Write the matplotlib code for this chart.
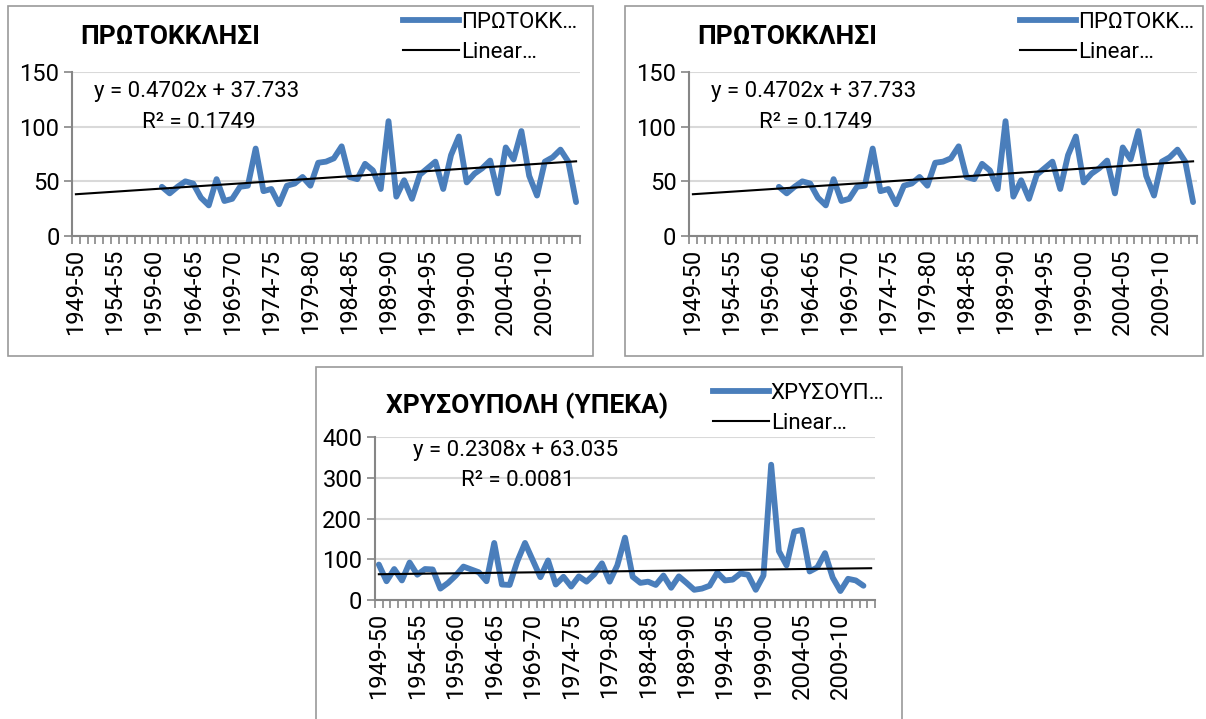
import numpy as np
import matplotlib
matplotlib.use('Agg')
from matplotlib import pyplot as plt
from matplotlib.lines import Line2D
from matplotlib.patches import Rectangle

# データ
seasons = ['%d-%02d' % (y, (y + 1) % 100) for y in range(1949, 2014)]

protokklisi = [None] * 11 + [
    45, 39, 45, 50, 48, 35, 28, 52, 32, 34,
    45, 46, 80, 41, 43, 29, 46, 48, 54, 46,
    67, 68, 71, 82, 54, 52, 66, 60, 43, 105,
    36, 51, 34, 56, 62, 68, 43, 74, 91, 49,
    57, 62, 69, 39, 81, 70, 96, 55, 37, 68,
    72, 79, 68, 31]

chrysoupoli = [
    87, 46, 76, 48, 92, 62, 76, 75, 28, 42,
    60, 82, 75, 68, 46, 140, 38, 37, 95, 140,
    98, 56, 97, 38, 57, 33, 58, 45, 63, 90,
    45, 85, 153, 57, 42, 45, 37, 60, 30, 58,
    42, 25, 28, 35, 67, 48, 50, 65, 62, 25,
    60, 332, 120, 85, 168, 172, 70, 80, 115, 55,
    22, 52, 48, 35, None]

# トレンドラインの係数 (図中の式)
trend_p = (0.4702, 37.733)
trend_c = (0.2308, 63.035)
eq_p = ['y = 0.4702x + 37.733', 'R² = 0.1749']
eq_c = ['y = 0.2308x + 63.035', 'R² = 0.0081']

plt.rcParams['font.family'] = ['Roboto', 'DejaVu Sans']
plt.rcParams['font.size'] = 16

W, H = 1206, 719
fig = plt.figure(figsize=(W / 100, H / 100), dpi=100)


def fx(px):
    return px / W


def fy(py):
    return 1 - py / H


def box(x0, y0, x1, y1):
    fig.patches.append(Rectangle((fx(x0), fy(y1)), fx(x1 - x0), y1 / H - y0 / H,
                                 transform=fig.transFigure, fill=False,
                                 edgecolor='#9a9a9a', linewidth=1.2))


def panel(x0, y0, x1, y1, vals, trend, eq, ymax, ystep,
          title, tpos, leglabel, legpos, eqpos):
    ax = fig.add_axes([fx(x0), fy(y1), fx(x1 - x0), y1 / H - y0 / H])
    n = len(seasons)
    x = np.arange(n)
    v = np.array([np.nan if a is None else a for a in vals], dtype=float)
    ax.plot(x, v, color='#4a7ebb', linewidth=4.2, solid_joinstyle='round',
            solid_capstyle='round')
    ax.plot(x, trend[0] * (x + 1) + trend[1], color='black', linewidth=1.5)

    ax.set_xlim(-0.5, n - 0.5)
    ax.set_ylim(0, ymax)
    ax.set_yticks(np.arange(0, ymax + 1, ystep))
    ax.yaxis.grid(True, color='#d9d9d9', linewidth=1.5)
    ax.set_axisbelow(True)
    ax.set_xticks(x[::5])
    ax.set_xticklabels(seasons[::5], rotation=90)
    ax.set_xticks(np.arange(n + 1) - 0.5, minor=True)
    ax.tick_params(axis='x', which='major', length=0, pad=9, labelsize=17)
    ax.tick_params(axis='x', which='minor', length=6, color='#868686', width=1.2)
    ax.tick_params(axis='y', length=6, color='#868686', width=1.2, pad=3,
                   labelsize=17)
    for s in ['top', 'right']:
        ax.spines[s].set_visible(False)
    for s in ['left', 'bottom']:
        ax.spines[s].set_color('#868686')
        ax.spines[s].set_linewidth(1.5)

    fig.text(fx(tpos[0]), fy(tpos[1]), title, fontsize=19, fontweight='bold',
             va='center', ha='left')
    fig.text(fx(eqpos[0]), fy(eqpos[1]), eq[0], ha='center', va='center')
    fig.text(fx(eqpos[0] + 2), fy(eqpos[1] + 30), eq[1], ha='center', va='center')

    handles = [Line2D([], [], color='#4a7ebb', linewidth=4.2),
               Line2D([], [], color='black', linewidth=1.5)]
    fig.legend(handles, [leglabel, 'Linear…'], loc='upper left',
               bbox_to_anchor=(fx(legpos[0]), fy(legpos[1])), frameon=False,
               handlelength=2.5, handletextpad=0.1, labelspacing=0.4,
               borderaxespad=0, borderpad=0)
    return ax


# 左上
box(8, 6, 593, 356)
panel(72, 72, 580, 236, protokklisi, trend_p, eq_p, 150, 50,
      'ΠΡΩΤΟΚΚΛΗΣΙ', (80, 37), 'ΠΡΩΤΟΚΚ…', (403, 12), (197, 92))

# 右上
box(625, 6, 1203, 356)
panel(689, 72, 1197, 236, protokklisi, trend_p, eq_p, 150, 50,
      'ΠΡΩΤΟΚΚΛΗΣΙ', (697, 37), 'ΠΡΩΤΟΚΚ…', (1020, 12), (814, 92))

# 下
box(316, 367, 902, 725)
panel(375, 437, 875, 600, chrysoupoli, trend_c, eq_c, 400, 100,
      'ΧΡΥΣΟΥΠΟΛΗ (ΥΠΕΚΑ)', (386, 406), 'ΧΡΥΣΟΥΠ…', (713, 383), (516, 451))

fig.savefig('out.png', dpi=100)
